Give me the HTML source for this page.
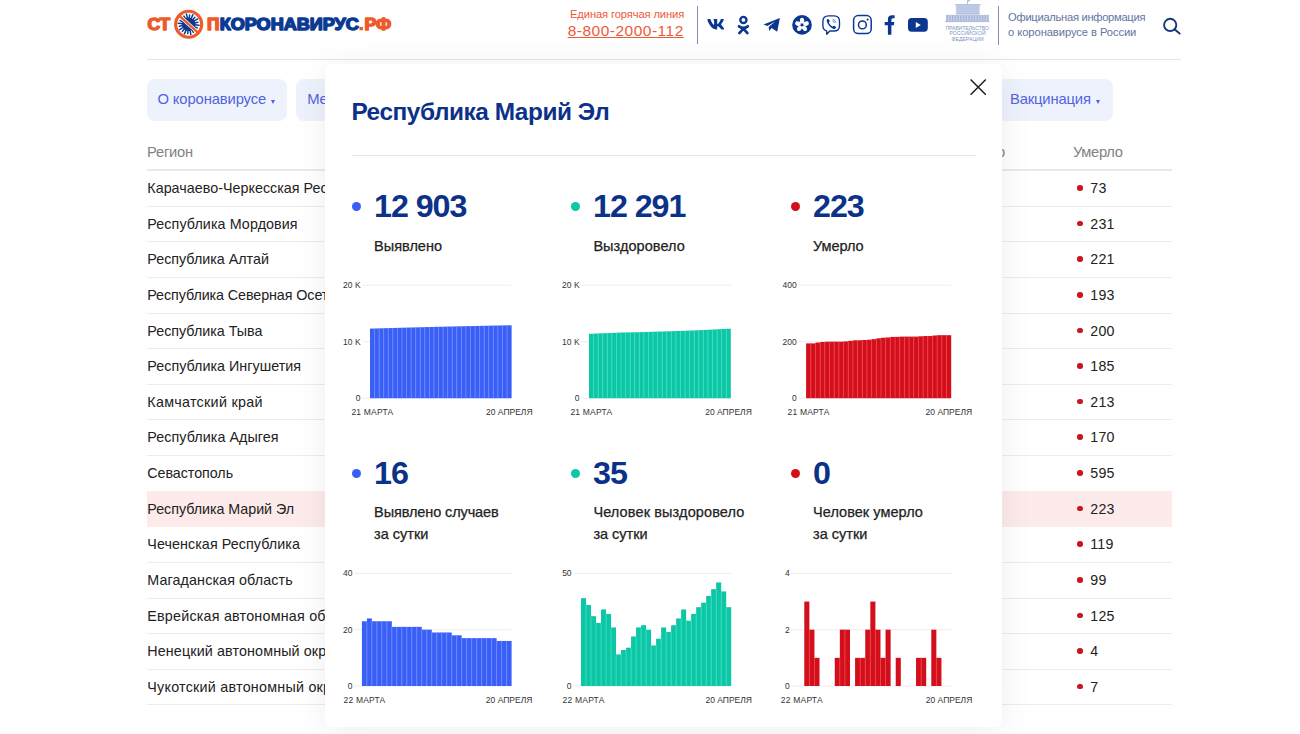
<!DOCTYPE html>
<html lang="ru">
<head>
<meta charset="utf-8">
<title>стопкоронавирус.рф</title>
<style>
*{box-sizing:border-box;margin:0;padding:0}
html,body{width:1300px;height:734px;overflow:hidden;background:#fff}
body{font-family:"Liberation Sans",sans-serif;color:#222;position:relative}
.abs{position:absolute}
/* header */
#hdrline{left:147px;top:59.2px;width:1034px;height:1px;background:#e4e4e4}
#hot1{right:615.9px;top:7.9px;font-size:11.2px;letter-spacing:-0.12px;color:#ec5a3a;white-space:nowrap}
#hot2{right:616.2px;top:22.2px;font-size:15.5px;letter-spacing:0.5px;color:#ec5a3a;white-space:nowrap;text-decoration:underline;text-underline-offset:1.2px;text-decoration-thickness:1px}
.vsep{width:1px;background:#7f8db5}
#off{left:1008.1px;top:10.3px;font-size:11.2px;line-height:15.1px;color:#62759f;white-space:nowrap}
#off .a{letter-spacing:-0.3px}
#off .b{letter-spacing:-0.08px}
/* nav */
.nav{top:79px;height:42px;background:#eef2fd;border-radius:8px;color:#5263e0;font-size:14.8px;letter-spacing:-0.26px;line-height:40.5px;white-space:nowrap}
.nav i{display:inline-block;box-sizing:content-box;width:0;height:0;border-left:2.8px solid transparent;border-right:2.8px solid transparent;border-top:4.3px solid #4f60e0;margin-left:5.4px;vertical-align:-0.3px}
/* table */
.th{top:144.2px;font-size:14.7px;letter-spacing:-0.22px;color:#808285;white-space:nowrap}
.row{left:147px;width:1025px;height:35.62px;border-bottom:1px solid #ececec;font-size:14.3px;line-height:34px;white-space:nowrap}
.row em{font-style:normal;position:absolute;left:0.3px;top:0}
.row.sel{background:#fcebea;border-bottom-color:#fcebea;box-shadow:0 -1px 0 #fcebea}
.row b{position:absolute;left:930.2px;top:14.0px;width:5.6px;height:5.6px;border-radius:50%;background:#c9151e}
.row span{position:absolute;left:943.3px;font-size:14.2px;letter-spacing:0.2px}
/* modal */
#modal{left:325px;top:64px;width:677px;height:663.3px;background:#fff;border-radius:8px;box-shadow:0 3px 34px rgba(0,0,0,.07)}
#title{left:26.4px;top:33.9px;font-size:24.4px;letter-spacing:-0.45px;font-weight:bold;color:#0c3189;white-space:nowrap}
#mline{left:27px;top:91px;width:624px;height:1px;background:#e4e4e4}
.stat{position:absolute;width:219px}
.stat .dot{position:absolute;left:-1px;width:9px;height:9px;border-radius:50%}
.stat .num{position:absolute;left:21.1px;font-size:31px;letter-spacing:-1.0px;font-weight:bold;color:#0c3189;white-space:nowrap;transform:scaleX(1.04);transform-origin:0 50%}
.stat .lbl{position:absolute;left:21.2px;font-size:14.5px;-webkit-text-stroke:0.25px #222;line-height:21.7px;color:#222;white-space:nowrap}
svg text{font-family:"Liberation Sans",sans-serif}
</style>
</head>
<body>
<!-- HEADER -->
<div class="abs" id="hdrline"></div>
<svg class="abs" style="left:0;top:0" width="420" height="50" viewBox="0 0 420 50">
<g font-family="Liberation Sans, sans-serif" font-weight="bold" font-size="15.7" stroke-linejoin="round" stroke-width="1.4">
<text x="147.4" y="29.75" textLength="22.8" lengthAdjust="spacingAndGlyphs" fill="#ee5a2a" stroke="#ee5a2a">СТ</text>
<text x="207.1" y="29.75" textLength="12.4" lengthAdjust="spacingAndGlyphs" fill="#ee5a2a" stroke="#ee5a2a">П</text>
<text x="219.7" y="29.75" textLength="139.2" lengthAdjust="spacingAndGlyphs" fill="#0b3a93" stroke="#0b3a93">КОРОНАВИРУС</text>
<text x="364.5" y="29.75" textLength="26.7" lengthAdjust="spacingAndGlyphs" fill="#ee5a2a" stroke="#ee5a2a">РФ</text>
</g>
<rect x="359.5" y="26.9" width="3.4" height="3.4" fill="#ee5a2a"/>
<circle cx="188.65" cy="24.25" r="6.8" fill="#0b3a93"/>
<line x1="193.63" y1="24.75" x2="199.10" y2="25.30" stroke="#0b3a93" stroke-width="1.45" stroke-linecap="round"/>
<line x1="193.23" y1="26.26" x2="197.26" y2="28.03" stroke="#0b3a93" stroke-width="1.45" stroke-linecap="round"/>
<line x1="192.38" y1="27.58" x2="196.49" y2="31.24" stroke="#0b3a93" stroke-width="1.45" stroke-linecap="round"/>
<line x1="191.17" y1="28.57" x2="193.39" y2="32.37" stroke="#0b3a93" stroke-width="1.45" stroke-linecap="round"/>
<line x1="189.71" y1="29.14" x2="190.88" y2="34.51" stroke="#0b3a93" stroke-width="1.45" stroke-linecap="round"/>
<line x1="188.15" y1="29.23" x2="187.71" y2="33.60" stroke="#0b3a93" stroke-width="1.45" stroke-linecap="round"/>
<line x1="186.64" y1="28.83" x2="184.42" y2="33.86" stroke="#0b3a93" stroke-width="1.45" stroke-linecap="round"/>
<line x1="185.32" y1="27.98" x2="182.39" y2="31.27" stroke="#0b3a93" stroke-width="1.45" stroke-linecap="round"/>
<line x1="184.33" y1="26.77" x2="179.58" y2="29.54" stroke="#0b3a93" stroke-width="1.45" stroke-linecap="round"/>
<line x1="183.76" y1="25.31" x2="179.46" y2="26.25" stroke="#0b3a93" stroke-width="1.45" stroke-linecap="round"/>
<line x1="183.67" y1="23.75" x2="178.20" y2="23.20" stroke="#0b3a93" stroke-width="1.45" stroke-linecap="round"/>
<line x1="184.07" y1="22.24" x2="180.04" y2="20.47" stroke="#0b3a93" stroke-width="1.45" stroke-linecap="round"/>
<line x1="184.92" y1="20.92" x2="180.81" y2="17.26" stroke="#0b3a93" stroke-width="1.45" stroke-linecap="round"/>
<line x1="186.13" y1="19.93" x2="183.91" y2="16.13" stroke="#0b3a93" stroke-width="1.45" stroke-linecap="round"/>
<line x1="187.59" y1="19.36" x2="186.42" y2="13.99" stroke="#0b3a93" stroke-width="1.45" stroke-linecap="round"/>
<line x1="189.15" y1="19.27" x2="189.59" y2="14.90" stroke="#0b3a93" stroke-width="1.45" stroke-linecap="round"/>
<line x1="190.66" y1="19.67" x2="192.88" y2="14.64" stroke="#0b3a93" stroke-width="1.45" stroke-linecap="round"/>
<line x1="191.98" y1="20.52" x2="194.91" y2="17.23" stroke="#0b3a93" stroke-width="1.45" stroke-linecap="round"/>
<line x1="192.97" y1="21.73" x2="197.72" y2="18.96" stroke="#0b3a93" stroke-width="1.45" stroke-linecap="round"/>
<line x1="193.54" y1="23.19" x2="197.84" y2="22.25" stroke="#0b3a93" stroke-width="1.45" stroke-linecap="round"/>
<line x1="179.05" y1="15.65" x2="198.25" y2="32.85" stroke="#fff" stroke-width="3.7"/>
<line x1="179.05" y1="15.65" x2="198.25" y2="32.85" stroke="#ee5a2a" stroke-width="2.4"/>
<circle cx="188.65" cy="24.25" r="13.0" fill="none" stroke="#ee5a2a" stroke-width="3.2"/>
</svg>
<div class="abs" id="hot1">Единая горячая линия</div>
<div class="abs" id="hot2">8-800-2000-112</div>
<div class="abs vsep" style="left:696.8px;top:5.5px;height:38px"></div>
<svg class="abs" style="left:700px;top:0" width="240" height="50" viewBox="700 0 240 50">
<!-- VK -->
<path transform="translate(706.819 15.750) scale(0.03124 0.03281)" d="M545 117.7c3.7-12.5 0-21.7-17.8-21.7h-58.900c-15 0-21.900 7.900-25.600 16.700 0 0-30 73.100-72.400 120.500-13.700 13.700-20 18.100-27.500 18.100-3.700 0-9.400-4.400-9.400-16.900V117.700c0-15-4.200-21.700-16.600-21.700h-92.600c-9.400 0-15 7-15 13.500 0 14.200 21.200 17.500 23.400 57.500v86.800c0 19-3.400 22.500-10.900 22.500-20 0-68.600-73.400-97.400-157.400-5.800-16.300-11.500-22.900-26.600-22.900H38.800c-16.800 0-20.200 7.900-20.200 16.700 0 15.600 20 93.100 93.100 195.500C160.400 378.100 229 416 291.400 416c37.500 0 42.100-8.400 42.100-22.900 0-66.800-3.400-73.100 15.400-73.100 8.700 0 23.700 4.400 58.700 38.100 40 40 46.600 57.900 69 57.900h58.900c16.800 0 25.300-8.400 20.400-25-11.200-34.900-86.900-106.700-90.300-111.500-8.700-11.200-6.200-16.200 0-26.200.1-.1 72-101.300 79.400-135.600z" fill="#0c3791"/>
<!-- OK -->
<g fill="none" stroke="#0c3791" stroke-linecap="round">
<circle cx="743.4" cy="19.9" r="3.05" stroke-width="2.4"/>
<path d="M739 26.3 Q743.4 29.6 747.8 26.3" stroke-width="2.7"/>
<path d="M743.4 28.6 L739.4 33.1 M743.4 28.6 L747.4 33.1" stroke-width="2.7"/>
</g>
<!-- Telegram -->
<path d="M763.5 24.5 L779.9 17.9 L777.2 31.7 L771.6 27.9 L769.1 31.1 L768.7 26.9 L775.0 21.4 L767.4 26.1 Z" fill="#0c3791"/>
<!-- flower -->
<circle cx="802" cy="24.9" r="9.8" fill="#0c3791"/>
<g fill="#fff"><ellipse cx="802" cy="20.70" rx="2.15" ry="2.9" transform="rotate(0 802 24.9)"/><ellipse cx="802" cy="20.70" rx="2.15" ry="2.9" transform="rotate(72 802 24.9)"/><ellipse cx="802" cy="20.70" rx="2.15" ry="2.9" transform="rotate(144 802 24.9)"/><ellipse cx="802" cy="20.70" rx="2.15" ry="2.9" transform="rotate(216 802 24.9)"/><ellipse cx="802" cy="20.70" rx="2.15" ry="2.9" transform="rotate(288 802 24.9)"/></g>
<!-- viber -->
<g fill="none" stroke="#0c3791" stroke-width="1.35" stroke-linejoin="round" stroke-linecap="round">
<path d="M828.6 15.9 H833.9 Q839.5 15.9 839.5 21.5 V25.4 Q839.5 31 833.9 31 H829.8 L826.7 34.3 V30.8 Q822.9 30 822.9 25.4 V21.5 Q822.9 15.9 828.6 15.9 Z"/>
<path d="M833 19.3 Q835.6 19.6 835.9 22.4" stroke-width="0.9" stroke="#5f79b8"/>
<path d="M832.8 21 Q834.2 21.2 834.4 22.6" stroke-width="0.9" stroke="#5f79b8"/>
</g>
<path d="M827.2 19.3 Q828.2 18.6 828.9 19.6 L829.6 20.9 Q829.9 21.6 829.2 22.1 Q828.7 22.6 829.1 23.3 Q830.3 25.4 832.3 26.4 Q832.9 26.6 833.3 26.1 Q833.9 25.4 834.6 25.9 L835.7 26.8 Q836.4 27.5 835.7 28.3 Q834.9 29.4 833.6 28.9 Q828.7 27 826.8 21.6 Q826.4 20.2 827.2 19.3 Z" fill="#0c3791"/>
<!-- instagram -->
<rect x="853.6" y="15.6" width="17.6" height="18" rx="4.6" fill="none" stroke="#0c3791" stroke-width="1.5"/>
<circle cx="862.4" cy="24.9" r="3.9" fill="none" stroke="#0c3791" stroke-width="1.5"/>
<circle cx="867.6" cy="19.6" r="1.05" fill="#0c3791"/>
<!-- facebook -->
<path d="M894.6 15.2 V18.2 H892.9 Q891.4 18.2 891.4 19.8 V22.1 H894.3 L893.9 25.2 H891.4 V34.8 H887.9 V25.2 H884.7 V22.1 H887.9 V19.4 Q887.9 15.2 892.2 15.2 Z" fill="#0c3791"/>
<!-- youtube -->
<rect x="908" y="17.9" width="19.8" height="13.8" rx="3.6" fill="#0c3791"/>
<path d="M915.8 21.9 L920.8 24.9 L915.8 27.9 Z" fill="#fff"/>
</svg>
<svg class="abs" style="left:940px;top:0" width="56" height="50" viewBox="940 0 56 50">
<rect x="955.8" y="4.6" width="24" height="17" fill="#d5ddef"/>
<rect x="956.5" y="6.40" width="22.6" height="1.1" fill="#a7b6da"/><rect x="956.5" y="8.50" width="22.6" height="1.1" fill="#a7b6da"/><rect x="956.5" y="10.60" width="22.6" height="1.1" fill="#a7b6da"/><rect x="956.5" y="12.70" width="22.6" height="1.1" fill="#a7b6da"/>
<rect x="955.2" y="4.2" width="25.2" height="1.2" fill="#a7b6da"/>
<rect x="946" y="14.8" width="42.4" height="6.8" fill="#c9d3ea"/>
<rect x="946.50" y="15" width="1.5" height="6.4" fill="#a7b6da"/><rect x="949.22" y="15" width="1.5" height="6.4" fill="#a7b6da"/><rect x="951.94" y="15" width="1.5" height="6.4" fill="#a7b6da"/><rect x="954.66" y="15" width="1.5" height="6.4" fill="#a7b6da"/><rect x="957.38" y="15" width="1.5" height="6.4" fill="#a7b6da"/><rect x="960.10" y="15" width="1.5" height="6.4" fill="#a7b6da"/><rect x="962.82" y="15" width="1.5" height="6.4" fill="#a7b6da"/><rect x="965.54" y="15" width="1.5" height="6.4" fill="#a7b6da"/><rect x="968.26" y="15" width="1.5" height="6.4" fill="#a7b6da"/><rect x="970.98" y="15" width="1.5" height="6.4" fill="#a7b6da"/><rect x="973.70" y="15" width="1.5" height="6.4" fill="#a7b6da"/><rect x="976.42" y="15" width="1.5" height="6.4" fill="#a7b6da"/><rect x="979.14" y="15" width="1.5" height="6.4" fill="#a7b6da"/><rect x="981.86" y="15" width="1.5" height="6.4" fill="#a7b6da"/><rect x="984.58" y="15" width="1.5" height="6.4" fill="#a7b6da"/><rect x="987.30" y="15" width="1.5" height="6.4" fill="#a7b6da"/>
<rect x="945" y="21.2" width="44.4" height="0.9" fill="#a7b6da"/>
<rect x="967" y="0" width="0.8" height="4.6" fill="#a7b6da"/>
<rect x="967.8" y="0" width="2" height="1.4" fill="#a7b6da"/>
<g font-family="Liberation Sans, sans-serif" font-size="5.1" fill="#8194c2" text-anchor="middle">
<text x="967.2" y="29.8" textLength="43.6" lengthAdjust="spacingAndGlyphs">ПРАВИТЕЛЬСТВО</text>
<text x="967.6" y="35.1" textLength="36" lengthAdjust="spacingAndGlyphs">РОССИЙСКОЙ</text>
<text x="967.6" y="40.5" textLength="32" lengthAdjust="spacingAndGlyphs">ФЕДЕРАЦИИ</text>
</g>
</svg>
<svg class="abs" style="left:1160px;top:12px" width="24" height="24" viewBox="1160 12 24 24">
<circle cx="1170.2" cy="24.9" r="6.1" fill="none" stroke="#17377c" stroke-width="1.9"/>
<line x1="1174.8" y1="29.6" x2="1179.6" y2="33.6" stroke="#17377c" stroke-width="2" stroke-linecap="round"/>
</svg>
<div class="abs vsep" style="left:998px;top:5.5px;height:39px"></div>
<div class="abs" id="off"><span class="a">Официальная информация</span><br><span class="b">о коронавирусе в России</span></div>

<!-- NAV -->
<div class="abs nav" style="left:147px;width:140px;padding-left:10.5px;letter-spacing:-0.13px">О коронавирусе<i style="margin-left:5px"></i></div>
<div class="abs nav" style="left:296px;width:160px;padding-left:11.3px">Меры</div>
<div class="abs nav" style="left:960px;width:153px;padding-left:50px;letter-spacing:-0.17px">Вакцинация<i></i></div>

<!-- TABLE -->
<div class="abs th" style="left:147px">Регион</div>
<div class="abs th" style="left:915.3px">Выздоровело</div>
<div class="abs th" style="left:1073px;letter-spacing:-0.33px">Умерло</div>
<div class="abs" style="left:147px;top:169.4px;width:1025px;height:1.4px;background:#e9e9e9"></div>
<div class="abs row" style="top:171.10px"><em style="letter-spacing:0.03px">Карачаево-Черкесская Республика</em><b></b><span>73</span></div>
<div class="abs row" style="top:206.72px"><em style="letter-spacing:0.09px">Республика Мордовия</em><b></b><span>231</span></div>
<div class="abs row" style="top:242.34px"><em style="letter-spacing:0.0px">Республика Алтай</em><b></b><span>221</span></div>
<div class="abs row" style="top:277.96px"><em style="letter-spacing:-0.08px">Республика Северная Осетия</em><b></b><span>193</span></div>
<div class="abs row" style="top:313.58px"><em style="letter-spacing:0.0px">Республика Тыва</em><b></b><span>200</span></div>
<div class="abs row" style="top:349.20px"><em style="letter-spacing:0.03px">Республика Ингушетия</em><b></b><span>185</span></div>
<div class="abs row" style="top:384.82px"><em style="letter-spacing:0.29px">Камчатский край</em><b></b><span>213</span></div>
<div class="abs row" style="top:420.44px"><em style="letter-spacing:0.07px">Республика Адыгея</em><b></b><span>170</span></div>
<div class="abs row" style="top:456.06px"><em style="letter-spacing:-0.05px">Севастополь</em><b></b><span>595</span></div>
<div class="abs row sel" style="top:491.68px"><em style="letter-spacing:-0.04px">Республика Марий Эл</em><b></b><span>223</span></div>
<div class="abs row" style="top:527.30px"><em style="letter-spacing:0.08px">Чеченская Республика</em><b></b><span>119</span></div>
<div class="abs row" style="top:562.92px"><em style="letter-spacing:0.11px">Магаданская область</em><b></b><span>99</span></div>
<div class="abs row" style="top:598.54px"><em style="letter-spacing:0.22px">Еврейская автономная область</em><b></b><span>125</span></div>
<div class="abs row" style="top:634.16px"><em style="letter-spacing:0.13px">Ненецкий автономный округ</em><b></b><span>4</span></div>
<div class="abs row" style="top:669.78px"><em style="letter-spacing:0.25px">Чукотский автономный округ</em><b></b><span>7</span></div>

<!-- MODAL -->
<div class="abs" id="modal">
  <div class="abs" id="title">Республика Марий Эл</div>
  <div class="abs" id="mline"></div>
  <div class="stat" style="left:27.9px;top:142.5px"><div class="dot" style="top:-4.5px;background:#3a5ff7"></div><div class="num" style="top:-17.5px">12 903</div><div class="lbl" style="top:29.3px"><span style="letter-spacing:0.0px">Выявлено</span></div></div>
<div class="stat" style="left:247.2px;top:142.5px"><div class="dot" style="top:-4.5px;background:#0cc7a6"></div><div class="num" style="top:-17.5px">12 291</div><div class="lbl" style="top:29.3px"><span style="letter-spacing:0.05px">Выздоровело</span></div></div>
<div class="stat" style="left:466.9px;top:142.5px"><div class="dot" style="top:-4.5px;background:#d30f1c"></div><div class="num" style="top:-17.5px">223</div><div class="lbl" style="top:29.3px"><span style="letter-spacing:-0.08px">Умерло</span></div></div>
<div class="stat" style="left:27.9px;top:409.0px"><div class="dot" style="top:-4.5px;background:#3a5ff7"></div><div class="num" style="top:-17.5px">16</div><div class="lbl" style="top:29.0px"><span style="letter-spacing:-0.11px">Выявлено случаев</span><br><span style="letter-spacing:0px">за сутки</span></div></div>
<div class="stat" style="left:247.2px;top:409.0px"><div class="dot" style="top:-4.5px;background:#0cc7a6"></div><div class="num" style="top:-17.5px">35</div><div class="lbl" style="top:29.0px"><span style="letter-spacing:0.12px">Человек выздоровело</span><br><span style="letter-spacing:0px">за сутки</span></div></div>
<div class="stat" style="left:466.9px;top:409.0px"><div class="dot" style="top:-4.5px;background:#d30f1c"></div><div class="num" style="top:-17.5px">0</div><div class="lbl" style="top:29.0px"><span style="letter-spacing:0.04px">Человек умерло</span><br><span style="letter-spacing:0px">за сутки</span></div></div>
  <svg class="abs" style="left:643px;top:13px" width="20" height="20" viewBox="0 0 20 20"><path d="M2.6 2.5 L17.8 17.7 M17.8 2.5 L2.6 17.7" stroke="#1c1c1c" stroke-width="1.5" fill="none"/></svg>
</div>
<svg class="abs" style="left:0;top:0" width="1300" height="734" viewBox="0 0 1300 734">
<rect x="362.50" y="397.70" width="149.10" height="1" fill="#ededed"/>
<text x="360.60" y="401.20" font-size="8.5" fill="#333" text-anchor="end">0</text>
<rect x="362.50" y="341.20" width="149.10" height="1" fill="#ededed"/>
<text x="360.60" y="344.70" font-size="8.5" fill="#333" text-anchor="end">10 K</text>
<rect x="362.50" y="284.70" width="149.10" height="1" fill="#ededed"/>
<text x="360.60" y="288.20" font-size="8.5" fill="#333" text-anchor="end">20 K</text>
<rect x="370.00" y="328.60" width="4.57" height="69.60" fill="#3a5ff7"/>
<rect x="374.57" y="328.47" width="4.57" height="69.73" fill="#3a5ff7"/>
<rect x="379.14" y="328.33" width="4.57" height="69.87" fill="#3a5ff7"/>
<rect x="383.70" y="328.20" width="4.57" height="70.00" fill="#3a5ff7"/>
<rect x="388.27" y="328.07" width="4.57" height="70.13" fill="#3a5ff7"/>
<rect x="392.84" y="327.94" width="4.57" height="70.26" fill="#3a5ff7"/>
<rect x="397.41" y="327.81" width="4.57" height="70.39" fill="#3a5ff7"/>
<rect x="401.97" y="327.69" width="4.57" height="70.51" fill="#3a5ff7"/>
<rect x="406.54" y="327.57" width="4.57" height="70.62" fill="#3a5ff7"/>
<rect x="411.11" y="327.46" width="4.57" height="70.74" fill="#3a5ff7"/>
<rect x="415.68" y="327.34" width="4.57" height="70.86" fill="#3a5ff7"/>
<rect x="420.25" y="327.22" width="4.57" height="70.98" fill="#3a5ff7"/>
<rect x="424.81" y="327.10" width="4.57" height="71.10" fill="#3a5ff7"/>
<rect x="429.38" y="326.99" width="4.57" height="71.21" fill="#3a5ff7"/>
<rect x="433.95" y="326.87" width="4.57" height="71.33" fill="#3a5ff7"/>
<rect x="438.52" y="326.77" width="4.57" height="71.43" fill="#3a5ff7"/>
<rect x="443.08" y="326.66" width="4.57" height="71.54" fill="#3a5ff7"/>
<rect x="447.65" y="326.55" width="4.57" height="71.65" fill="#3a5ff7"/>
<rect x="452.22" y="326.44" width="4.57" height="71.75" fill="#3a5ff7"/>
<rect x="456.79" y="326.34" width="4.57" height="71.86" fill="#3a5ff7"/>
<rect x="461.35" y="326.24" width="4.57" height="71.96" fill="#3a5ff7"/>
<rect x="465.92" y="326.15" width="4.57" height="72.05" fill="#3a5ff7"/>
<rect x="470.49" y="326.05" width="4.57" height="72.15" fill="#3a5ff7"/>
<rect x="475.06" y="325.95" width="4.57" height="72.25" fill="#3a5ff7"/>
<rect x="479.63" y="325.86" width="4.57" height="72.34" fill="#3a5ff7"/>
<rect x="484.19" y="325.76" width="4.57" height="72.44" fill="#3a5ff7"/>
<rect x="488.76" y="325.67" width="4.57" height="72.53" fill="#3a5ff7"/>
<rect x="493.33" y="325.57" width="4.57" height="72.63" fill="#3a5ff7"/>
<rect x="497.90" y="325.48" width="4.57" height="72.72" fill="#3a5ff7"/>
<rect x="502.46" y="325.39" width="4.57" height="72.81" fill="#3a5ff7"/>
<rect x="507.03" y="325.30" width="4.57" height="72.90" fill="#3a5ff7"/>
<rect x="374.12" y="328.60" width="0.9" height="69.60" fill="#6a89fd"/>
<rect x="378.69" y="328.47" width="0.9" height="69.73" fill="#6a89fd"/>
<rect x="383.25" y="328.33" width="0.9" height="69.87" fill="#6a89fd"/>
<rect x="387.82" y="328.20" width="0.9" height="70.00" fill="#6a89fd"/>
<rect x="392.39" y="328.07" width="0.9" height="70.13" fill="#6a89fd"/>
<rect x="396.96" y="327.94" width="0.9" height="70.26" fill="#6a89fd"/>
<rect x="401.52" y="327.81" width="0.9" height="70.39" fill="#6a89fd"/>
<rect x="406.09" y="327.69" width="0.9" height="70.51" fill="#6a89fd"/>
<rect x="410.66" y="327.57" width="0.9" height="70.62" fill="#6a89fd"/>
<rect x="415.23" y="327.46" width="0.9" height="70.74" fill="#6a89fd"/>
<rect x="419.80" y="327.34" width="0.9" height="70.86" fill="#6a89fd"/>
<rect x="424.36" y="327.22" width="0.9" height="70.98" fill="#6a89fd"/>
<rect x="428.93" y="327.10" width="0.9" height="71.10" fill="#6a89fd"/>
<rect x="433.50" y="326.99" width="0.9" height="71.21" fill="#6a89fd"/>
<rect x="438.07" y="326.87" width="0.9" height="71.33" fill="#6a89fd"/>
<rect x="442.63" y="326.77" width="0.9" height="71.43" fill="#6a89fd"/>
<rect x="447.20" y="326.66" width="0.9" height="71.54" fill="#6a89fd"/>
<rect x="451.77" y="326.55" width="0.9" height="71.65" fill="#6a89fd"/>
<rect x="456.34" y="326.44" width="0.9" height="71.75" fill="#6a89fd"/>
<rect x="460.90" y="326.34" width="0.9" height="71.86" fill="#6a89fd"/>
<rect x="465.47" y="326.24" width="0.9" height="71.96" fill="#6a89fd"/>
<rect x="470.04" y="326.15" width="0.9" height="72.05" fill="#6a89fd"/>
<rect x="474.61" y="326.05" width="0.9" height="72.15" fill="#6a89fd"/>
<rect x="479.18" y="325.95" width="0.9" height="72.25" fill="#6a89fd"/>
<rect x="483.74" y="325.86" width="0.9" height="72.34" fill="#6a89fd"/>
<rect x="488.31" y="325.76" width="0.9" height="72.44" fill="#6a89fd"/>
<rect x="492.88" y="325.67" width="0.9" height="72.53" fill="#6a89fd"/>
<rect x="497.45" y="325.57" width="0.9" height="72.63" fill="#6a89fd"/>
<rect x="502.01" y="325.48" width="0.9" height="72.72" fill="#6a89fd"/>
<rect x="506.58" y="325.39" width="0.9" height="72.81" fill="#6a89fd"/>
<text x="372.28" y="414.90" font-size="8.5" fill="#333" text-anchor="middle" textLength="41.8" lengthAdjust="spacing">21 МАРТА</text>
<text x="509.32" y="414.90" font-size="8.5" fill="#333" text-anchor="middle">20 АПРЕЛЯ</text>
<rect x="581.50" y="397.70" width="149.30" height="1" fill="#ededed"/>
<text x="579.60" y="401.20" font-size="8.5" fill="#333" text-anchor="end">0</text>
<rect x="581.50" y="341.20" width="149.30" height="1" fill="#ededed"/>
<text x="579.60" y="344.70" font-size="8.5" fill="#333" text-anchor="end">10 K</text>
<rect x="581.50" y="284.70" width="149.30" height="1" fill="#ededed"/>
<text x="579.60" y="288.20" font-size="8.5" fill="#333" text-anchor="end">20 K</text>
<rect x="589.00" y="333.80" width="4.57" height="64.40" fill="#0cc7a6"/>
<rect x="593.57" y="333.58" width="4.57" height="64.62" fill="#0cc7a6"/>
<rect x="598.15" y="333.37" width="4.57" height="64.83" fill="#0cc7a6"/>
<rect x="602.72" y="333.20" width="4.57" height="65.00" fill="#0cc7a6"/>
<rect x="607.30" y="333.04" width="4.57" height="65.16" fill="#0cc7a6"/>
<rect x="611.87" y="332.85" width="4.57" height="65.35" fill="#0cc7a6"/>
<rect x="616.45" y="332.67" width="4.57" height="65.53" fill="#0cc7a6"/>
<rect x="621.02" y="332.52" width="4.57" height="65.68" fill="#0cc7a6"/>
<rect x="625.59" y="332.44" width="4.57" height="65.76" fill="#0cc7a6"/>
<rect x="630.17" y="332.35" width="4.57" height="65.85" fill="#0cc7a6"/>
<rect x="634.74" y="332.25" width="4.57" height="65.95" fill="#0cc7a6"/>
<rect x="639.32" y="332.13" width="4.57" height="66.07" fill="#0cc7a6"/>
<rect x="643.89" y="331.98" width="4.57" height="66.22" fill="#0cc7a6"/>
<rect x="648.46" y="331.83" width="4.57" height="66.37" fill="#0cc7a6"/>
<rect x="653.04" y="331.69" width="4.57" height="66.51" fill="#0cc7a6"/>
<rect x="657.61" y="331.59" width="4.57" height="66.61" fill="#0cc7a6"/>
<rect x="662.19" y="331.47" width="4.57" height="66.73" fill="#0cc7a6"/>
<rect x="666.76" y="331.32" width="4.57" height="66.88" fill="#0cc7a6"/>
<rect x="671.34" y="331.19" width="4.57" height="67.01" fill="#0cc7a6"/>
<rect x="675.91" y="331.03" width="4.57" height="67.17" fill="#0cc7a6"/>
<rect x="680.48" y="330.86" width="4.57" height="67.34" fill="#0cc7a6"/>
<rect x="685.06" y="330.67" width="4.57" height="67.53" fill="#0cc7a6"/>
<rect x="689.63" y="330.51" width="4.57" height="67.69" fill="#0cc7a6"/>
<rect x="694.21" y="330.33" width="4.57" height="67.87" fill="#0cc7a6"/>
<rect x="698.78" y="330.13" width="4.57" height="68.07" fill="#0cc7a6"/>
<rect x="703.35" y="329.92" width="4.57" height="68.28" fill="#0cc7a6"/>
<rect x="707.93" y="329.69" width="4.57" height="68.51" fill="#0cc7a6"/>
<rect x="712.50" y="329.45" width="4.57" height="68.75" fill="#0cc7a6"/>
<rect x="717.08" y="329.19" width="4.57" height="69.01" fill="#0cc7a6"/>
<rect x="721.65" y="328.95" width="4.57" height="69.25" fill="#0cc7a6"/>
<rect x="726.23" y="328.76" width="4.57" height="69.44" fill="#0cc7a6"/>
<rect x="593.12" y="333.80" width="0.9" height="64.40" fill="#3edcc1"/>
<rect x="597.70" y="333.58" width="0.9" height="64.62" fill="#3edcc1"/>
<rect x="602.27" y="333.37" width="0.9" height="64.83" fill="#3edcc1"/>
<rect x="606.85" y="333.20" width="0.9" height="65.00" fill="#3edcc1"/>
<rect x="611.42" y="333.04" width="0.9" height="65.16" fill="#3edcc1"/>
<rect x="616.00" y="332.85" width="0.9" height="65.35" fill="#3edcc1"/>
<rect x="620.57" y="332.67" width="0.9" height="65.53" fill="#3edcc1"/>
<rect x="625.14" y="332.52" width="0.9" height="65.68" fill="#3edcc1"/>
<rect x="629.72" y="332.44" width="0.9" height="65.76" fill="#3edcc1"/>
<rect x="634.29" y="332.35" width="0.9" height="65.85" fill="#3edcc1"/>
<rect x="638.87" y="332.25" width="0.9" height="65.95" fill="#3edcc1"/>
<rect x="643.44" y="332.13" width="0.9" height="66.07" fill="#3edcc1"/>
<rect x="648.01" y="331.98" width="0.9" height="66.22" fill="#3edcc1"/>
<rect x="652.59" y="331.83" width="0.9" height="66.37" fill="#3edcc1"/>
<rect x="657.16" y="331.69" width="0.9" height="66.51" fill="#3edcc1"/>
<rect x="661.74" y="331.59" width="0.9" height="66.61" fill="#3edcc1"/>
<rect x="666.31" y="331.47" width="0.9" height="66.73" fill="#3edcc1"/>
<rect x="670.89" y="331.32" width="0.9" height="66.88" fill="#3edcc1"/>
<rect x="675.46" y="331.19" width="0.9" height="67.01" fill="#3edcc1"/>
<rect x="680.03" y="331.03" width="0.9" height="67.17" fill="#3edcc1"/>
<rect x="684.61" y="330.86" width="0.9" height="67.34" fill="#3edcc1"/>
<rect x="689.18" y="330.67" width="0.9" height="67.53" fill="#3edcc1"/>
<rect x="693.76" y="330.51" width="0.9" height="67.69" fill="#3edcc1"/>
<rect x="698.33" y="330.33" width="0.9" height="67.87" fill="#3edcc1"/>
<rect x="702.90" y="330.13" width="0.9" height="68.07" fill="#3edcc1"/>
<rect x="707.48" y="329.92" width="0.9" height="68.28" fill="#3edcc1"/>
<rect x="712.05" y="329.69" width="0.9" height="68.51" fill="#3edcc1"/>
<rect x="716.63" y="329.45" width="0.9" height="68.75" fill="#3edcc1"/>
<rect x="721.20" y="329.19" width="0.9" height="69.01" fill="#3edcc1"/>
<rect x="725.78" y="328.95" width="0.9" height="69.25" fill="#3edcc1"/>
<text x="591.29" y="414.90" font-size="8.5" fill="#333" text-anchor="middle" textLength="41.8" lengthAdjust="spacing">21 МАРТА</text>
<text x="728.51" y="414.90" font-size="8.5" fill="#333" text-anchor="middle">20 АПРЕЛЯ</text>
<rect x="798.60" y="397.70" width="152.60" height="1" fill="#ededed"/>
<text x="796.70" y="401.20" font-size="8.5" fill="#333" text-anchor="end">0</text>
<rect x="798.60" y="341.20" width="152.60" height="1" fill="#ededed"/>
<text x="796.70" y="344.70" font-size="8.5" fill="#333" text-anchor="end">200</text>
<rect x="798.60" y="284.70" width="152.60" height="1" fill="#ededed"/>
<text x="796.70" y="288.20" font-size="8.5" fill="#333" text-anchor="end">400</text>
<rect x="806.10" y="343.39" width="4.68" height="54.80" fill="#d30f1c"/>
<rect x="810.78" y="343.39" width="4.68" height="54.80" fill="#d30f1c"/>
<rect x="815.46" y="342.55" width="4.68" height="55.65" fill="#d30f1c"/>
<rect x="820.14" y="341.98" width="4.68" height="56.22" fill="#d30f1c"/>
<rect x="824.82" y="341.70" width="4.68" height="56.50" fill="#d30f1c"/>
<rect x="829.50" y="341.70" width="4.68" height="56.50" fill="#d30f1c"/>
<rect x="834.18" y="341.70" width="4.68" height="56.50" fill="#d30f1c"/>
<rect x="838.86" y="341.70" width="4.68" height="56.50" fill="#d30f1c"/>
<rect x="843.55" y="341.42" width="4.68" height="56.78" fill="#d30f1c"/>
<rect x="848.23" y="340.85" width="4.68" height="57.35" fill="#d30f1c"/>
<rect x="852.91" y="340.29" width="4.68" height="57.91" fill="#d30f1c"/>
<rect x="857.59" y="340.29" width="4.68" height="57.91" fill="#d30f1c"/>
<rect x="862.27" y="340.00" width="4.68" height="58.20" fill="#d30f1c"/>
<rect x="866.95" y="339.72" width="4.68" height="58.48" fill="#d30f1c"/>
<rect x="871.63" y="339.16" width="4.68" height="59.04" fill="#d30f1c"/>
<rect x="876.31" y="338.31" width="4.68" height="59.89" fill="#d30f1c"/>
<rect x="880.99" y="337.75" width="4.68" height="60.45" fill="#d30f1c"/>
<rect x="885.67" y="337.46" width="4.68" height="60.74" fill="#d30f1c"/>
<rect x="890.35" y="336.90" width="4.68" height="61.30" fill="#d30f1c"/>
<rect x="895.03" y="336.90" width="4.68" height="61.30" fill="#d30f1c"/>
<rect x="899.71" y="336.62" width="4.68" height="61.59" fill="#d30f1c"/>
<rect x="904.39" y="336.62" width="4.68" height="61.59" fill="#d30f1c"/>
<rect x="909.07" y="336.62" width="4.68" height="61.59" fill="#d30f1c"/>
<rect x="913.75" y="336.62" width="4.68" height="61.59" fill="#d30f1c"/>
<rect x="918.44" y="336.33" width="4.68" height="61.87" fill="#d30f1c"/>
<rect x="923.12" y="336.05" width="4.68" height="62.15" fill="#d30f1c"/>
<rect x="927.80" y="336.05" width="4.68" height="62.15" fill="#d30f1c"/>
<rect x="932.48" y="335.49" width="4.68" height="62.72" fill="#d30f1c"/>
<rect x="937.16" y="335.20" width="4.68" height="63.00" fill="#d30f1c"/>
<rect x="941.84" y="335.20" width="4.68" height="63.00" fill="#d30f1c"/>
<rect x="946.52" y="335.20" width="4.68" height="63.00" fill="#d30f1c"/>
<rect x="810.33" y="343.39" width="0.9" height="54.80" fill="#ee3f4a"/>
<rect x="815.01" y="343.39" width="0.9" height="54.80" fill="#ee3f4a"/>
<rect x="819.69" y="342.55" width="0.9" height="55.65" fill="#ee3f4a"/>
<rect x="824.37" y="341.98" width="0.9" height="56.22" fill="#ee3f4a"/>
<rect x="829.05" y="341.70" width="0.9" height="56.50" fill="#ee3f4a"/>
<rect x="833.73" y="341.70" width="0.9" height="56.50" fill="#ee3f4a"/>
<rect x="838.41" y="341.70" width="0.9" height="56.50" fill="#ee3f4a"/>
<rect x="843.10" y="341.70" width="0.9" height="56.50" fill="#ee3f4a"/>
<rect x="847.78" y="341.42" width="0.9" height="56.78" fill="#ee3f4a"/>
<rect x="852.46" y="340.85" width="0.9" height="57.35" fill="#ee3f4a"/>
<rect x="857.14" y="340.29" width="0.9" height="57.91" fill="#ee3f4a"/>
<rect x="861.82" y="340.29" width="0.9" height="57.91" fill="#ee3f4a"/>
<rect x="866.50" y="340.00" width="0.9" height="58.20" fill="#ee3f4a"/>
<rect x="871.18" y="339.72" width="0.9" height="58.48" fill="#ee3f4a"/>
<rect x="875.86" y="339.16" width="0.9" height="59.04" fill="#ee3f4a"/>
<rect x="880.54" y="338.31" width="0.9" height="59.89" fill="#ee3f4a"/>
<rect x="885.22" y="337.75" width="0.9" height="60.45" fill="#ee3f4a"/>
<rect x="889.90" y="337.46" width="0.9" height="60.74" fill="#ee3f4a"/>
<rect x="894.58" y="336.90" width="0.9" height="61.30" fill="#ee3f4a"/>
<rect x="899.26" y="336.90" width="0.9" height="61.30" fill="#ee3f4a"/>
<rect x="903.94" y="336.62" width="0.9" height="61.59" fill="#ee3f4a"/>
<rect x="908.62" y="336.62" width="0.9" height="61.59" fill="#ee3f4a"/>
<rect x="913.30" y="336.62" width="0.9" height="61.59" fill="#ee3f4a"/>
<rect x="917.99" y="336.62" width="0.9" height="61.59" fill="#ee3f4a"/>
<rect x="922.67" y="336.33" width="0.9" height="61.87" fill="#ee3f4a"/>
<rect x="927.35" y="336.05" width="0.9" height="62.15" fill="#ee3f4a"/>
<rect x="932.03" y="336.05" width="0.9" height="62.15" fill="#ee3f4a"/>
<rect x="936.71" y="335.49" width="0.9" height="62.72" fill="#ee3f4a"/>
<rect x="941.39" y="335.20" width="0.9" height="63.00" fill="#ee3f4a"/>
<rect x="946.07" y="335.20" width="0.9" height="63.00" fill="#ee3f4a"/>
<text x="808.44" y="414.90" font-size="8.5" fill="#333" text-anchor="middle" textLength="41.8" lengthAdjust="spacing">21 МАРТА</text>
<text x="948.86" y="414.90" font-size="8.5" fill="#333" text-anchor="middle">20 АПРЕЛЯ</text>
<rect x="354.40" y="685.50" width="157.20" height="1" fill="#ededed"/>
<text x="352.50" y="689.00" font-size="8.5" fill="#333" text-anchor="end">0</text>
<rect x="354.40" y="629.20" width="157.20" height="1" fill="#ededed"/>
<text x="352.50" y="632.70" font-size="8.5" fill="#333" text-anchor="end">20</text>
<rect x="354.40" y="572.90" width="157.20" height="1" fill="#ededed"/>
<text x="352.50" y="576.40" font-size="8.5" fill="#333" text-anchor="end">40</text>
<rect x="361.90" y="621.25" width="4.99" height="64.75" fill="#3a5ff7"/>
<rect x="366.89" y="618.44" width="4.99" height="67.56" fill="#3a5ff7"/>
<rect x="371.88" y="621.25" width="4.99" height="64.75" fill="#3a5ff7"/>
<rect x="376.87" y="621.25" width="4.99" height="64.75" fill="#3a5ff7"/>
<rect x="381.86" y="621.25" width="4.99" height="64.75" fill="#3a5ff7"/>
<rect x="386.85" y="621.25" width="4.99" height="64.75" fill="#3a5ff7"/>
<rect x="391.84" y="626.88" width="4.99" height="59.12" fill="#3a5ff7"/>
<rect x="396.83" y="626.88" width="4.99" height="59.12" fill="#3a5ff7"/>
<rect x="401.82" y="626.88" width="4.99" height="59.12" fill="#3a5ff7"/>
<rect x="406.81" y="626.88" width="4.99" height="59.12" fill="#3a5ff7"/>
<rect x="411.80" y="626.88" width="4.99" height="59.12" fill="#3a5ff7"/>
<rect x="416.79" y="626.88" width="4.99" height="59.12" fill="#3a5ff7"/>
<rect x="421.78" y="629.70" width="4.99" height="56.30" fill="#3a5ff7"/>
<rect x="426.77" y="629.70" width="4.99" height="56.30" fill="#3a5ff7"/>
<rect x="431.76" y="632.51" width="4.99" height="53.49" fill="#3a5ff7"/>
<rect x="436.75" y="632.51" width="4.99" height="53.49" fill="#3a5ff7"/>
<rect x="441.74" y="632.51" width="4.99" height="53.49" fill="#3a5ff7"/>
<rect x="446.73" y="632.51" width="4.99" height="53.49" fill="#3a5ff7"/>
<rect x="451.72" y="635.33" width="4.99" height="50.67" fill="#3a5ff7"/>
<rect x="456.71" y="635.33" width="4.99" height="50.67" fill="#3a5ff7"/>
<rect x="461.70" y="638.14" width="4.99" height="47.86" fill="#3a5ff7"/>
<rect x="466.69" y="638.14" width="4.99" height="47.86" fill="#3a5ff7"/>
<rect x="471.68" y="638.14" width="4.99" height="47.86" fill="#3a5ff7"/>
<rect x="476.67" y="638.14" width="4.99" height="47.86" fill="#3a5ff7"/>
<rect x="481.66" y="638.14" width="4.99" height="47.86" fill="#3a5ff7"/>
<rect x="486.65" y="638.14" width="4.99" height="47.86" fill="#3a5ff7"/>
<rect x="491.64" y="638.14" width="4.99" height="47.86" fill="#3a5ff7"/>
<rect x="496.63" y="640.96" width="4.99" height="45.04" fill="#3a5ff7"/>
<rect x="501.62" y="640.96" width="4.99" height="45.04" fill="#3a5ff7"/>
<rect x="506.61" y="640.96" width="4.99" height="45.04" fill="#3a5ff7"/>
<rect x="366.44" y="621.25" width="0.9" height="64.75" fill="#6a89fd"/>
<rect x="371.43" y="621.25" width="0.9" height="64.75" fill="#6a89fd"/>
<rect x="376.42" y="621.25" width="0.9" height="64.75" fill="#6a89fd"/>
<rect x="381.41" y="621.25" width="0.9" height="64.75" fill="#6a89fd"/>
<rect x="386.40" y="621.25" width="0.9" height="64.75" fill="#6a89fd"/>
<rect x="391.39" y="626.88" width="0.9" height="59.12" fill="#6a89fd"/>
<rect x="396.38" y="626.88" width="0.9" height="59.12" fill="#6a89fd"/>
<rect x="401.37" y="626.88" width="0.9" height="59.12" fill="#6a89fd"/>
<rect x="406.36" y="626.88" width="0.9" height="59.12" fill="#6a89fd"/>
<rect x="411.35" y="626.88" width="0.9" height="59.12" fill="#6a89fd"/>
<rect x="416.34" y="626.88" width="0.9" height="59.12" fill="#6a89fd"/>
<rect x="421.33" y="629.70" width="0.9" height="56.30" fill="#6a89fd"/>
<rect x="426.32" y="629.70" width="0.9" height="56.30" fill="#6a89fd"/>
<rect x="431.31" y="632.51" width="0.9" height="53.49" fill="#6a89fd"/>
<rect x="436.30" y="632.51" width="0.9" height="53.49" fill="#6a89fd"/>
<rect x="441.29" y="632.51" width="0.9" height="53.49" fill="#6a89fd"/>
<rect x="446.28" y="632.51" width="0.9" height="53.49" fill="#6a89fd"/>
<rect x="451.27" y="635.33" width="0.9" height="50.67" fill="#6a89fd"/>
<rect x="456.26" y="635.33" width="0.9" height="50.67" fill="#6a89fd"/>
<rect x="461.25" y="638.14" width="0.9" height="47.86" fill="#6a89fd"/>
<rect x="466.24" y="638.14" width="0.9" height="47.86" fill="#6a89fd"/>
<rect x="471.23" y="638.14" width="0.9" height="47.86" fill="#6a89fd"/>
<rect x="476.22" y="638.14" width="0.9" height="47.86" fill="#6a89fd"/>
<rect x="481.21" y="638.14" width="0.9" height="47.86" fill="#6a89fd"/>
<rect x="486.20" y="638.14" width="0.9" height="47.86" fill="#6a89fd"/>
<rect x="491.19" y="638.14" width="0.9" height="47.86" fill="#6a89fd"/>
<rect x="496.18" y="640.96" width="0.9" height="45.04" fill="#6a89fd"/>
<rect x="501.17" y="640.96" width="0.9" height="45.04" fill="#6a89fd"/>
<rect x="506.16" y="640.96" width="0.9" height="45.04" fill="#6a89fd"/>
<text x="364.39" y="702.70" font-size="8.5" fill="#333" text-anchor="middle" textLength="41.8" lengthAdjust="spacing">22 МАРТА</text>
<text x="509.11" y="702.70" font-size="8.5" fill="#333" text-anchor="middle">20 АПРЕЛЯ</text>
<rect x="573.50" y="685.50" width="157.70" height="1" fill="#ededed"/>
<text x="571.60" y="689.00" font-size="8.5" fill="#333" text-anchor="end">0</text>
<rect x="573.50" y="572.90" width="157.70" height="1" fill="#ededed"/>
<text x="571.60" y="576.40" font-size="8.5" fill="#333" text-anchor="end">50</text>
<rect x="581.00" y="598.17" width="5.01" height="87.83" fill="#0cc7a6"/>
<rect x="586.01" y="604.93" width="5.01" height="81.07" fill="#0cc7a6"/>
<rect x="591.01" y="616.19" width="5.01" height="69.81" fill="#0cc7a6"/>
<rect x="596.02" y="622.94" width="5.01" height="63.06" fill="#0cc7a6"/>
<rect x="601.03" y="609.43" width="5.01" height="76.57" fill="#0cc7a6"/>
<rect x="606.03" y="613.94" width="5.01" height="72.06" fill="#0cc7a6"/>
<rect x="611.04" y="627.45" width="5.01" height="58.55" fill="#0cc7a6"/>
<rect x="616.05" y="654.47" width="5.01" height="31.53" fill="#0cc7a6"/>
<rect x="621.05" y="649.97" width="5.01" height="36.03" fill="#0cc7a6"/>
<rect x="626.06" y="647.72" width="5.01" height="38.28" fill="#0cc7a6"/>
<rect x="631.07" y="636.46" width="5.01" height="49.54" fill="#0cc7a6"/>
<rect x="636.07" y="627.45" width="5.01" height="58.55" fill="#0cc7a6"/>
<rect x="641.08" y="625.20" width="5.01" height="60.80" fill="#0cc7a6"/>
<rect x="646.09" y="629.70" width="5.01" height="56.30" fill="#0cc7a6"/>
<rect x="651.09" y="645.46" width="5.01" height="40.54" fill="#0cc7a6"/>
<rect x="656.10" y="638.71" width="5.01" height="47.29" fill="#0cc7a6"/>
<rect x="661.11" y="627.45" width="5.01" height="58.55" fill="#0cc7a6"/>
<rect x="666.11" y="631.95" width="5.01" height="54.05" fill="#0cc7a6"/>
<rect x="671.12" y="625.20" width="5.01" height="60.80" fill="#0cc7a6"/>
<rect x="676.13" y="618.44" width="5.01" height="67.56" fill="#0cc7a6"/>
<rect x="681.13" y="609.43" width="5.01" height="76.57" fill="#0cc7a6"/>
<rect x="686.14" y="620.69" width="5.01" height="65.31" fill="#0cc7a6"/>
<rect x="691.15" y="613.94" width="5.01" height="72.06" fill="#0cc7a6"/>
<rect x="696.15" y="607.18" width="5.01" height="78.82" fill="#0cc7a6"/>
<rect x="701.16" y="602.68" width="5.01" height="83.32" fill="#0cc7a6"/>
<rect x="706.17" y="595.92" width="5.01" height="90.08" fill="#0cc7a6"/>
<rect x="711.17" y="589.16" width="5.01" height="96.84" fill="#0cc7a6"/>
<rect x="716.18" y="582.41" width="5.01" height="103.59" fill="#0cc7a6"/>
<rect x="721.19" y="591.42" width="5.01" height="94.58" fill="#0cc7a6"/>
<rect x="726.19" y="607.18" width="5.01" height="78.82" fill="#0cc7a6"/>
<rect x="585.56" y="604.93" width="0.9" height="81.07" fill="#3edcc1"/>
<rect x="590.56" y="616.19" width="0.9" height="69.81" fill="#3edcc1"/>
<rect x="595.57" y="622.94" width="0.9" height="63.06" fill="#3edcc1"/>
<rect x="600.58" y="622.94" width="0.9" height="63.06" fill="#3edcc1"/>
<rect x="605.58" y="613.94" width="0.9" height="72.06" fill="#3edcc1"/>
<rect x="610.59" y="627.45" width="0.9" height="58.55" fill="#3edcc1"/>
<rect x="615.60" y="654.47" width="0.9" height="31.53" fill="#3edcc1"/>
<rect x="620.60" y="654.47" width="0.9" height="31.53" fill="#3edcc1"/>
<rect x="625.61" y="649.97" width="0.9" height="36.03" fill="#3edcc1"/>
<rect x="630.62" y="647.72" width="0.9" height="38.28" fill="#3edcc1"/>
<rect x="635.62" y="636.46" width="0.9" height="49.54" fill="#3edcc1"/>
<rect x="640.63" y="627.45" width="0.9" height="58.55" fill="#3edcc1"/>
<rect x="645.64" y="629.70" width="0.9" height="56.30" fill="#3edcc1"/>
<rect x="650.64" y="645.46" width="0.9" height="40.54" fill="#3edcc1"/>
<rect x="655.65" y="645.46" width="0.9" height="40.54" fill="#3edcc1"/>
<rect x="660.66" y="638.71" width="0.9" height="47.29" fill="#3edcc1"/>
<rect x="665.66" y="631.95" width="0.9" height="54.05" fill="#3edcc1"/>
<rect x="670.67" y="631.95" width="0.9" height="54.05" fill="#3edcc1"/>
<rect x="675.68" y="625.20" width="0.9" height="60.80" fill="#3edcc1"/>
<rect x="680.68" y="618.44" width="0.9" height="67.56" fill="#3edcc1"/>
<rect x="685.69" y="620.69" width="0.9" height="65.31" fill="#3edcc1"/>
<rect x="690.70" y="620.69" width="0.9" height="65.31" fill="#3edcc1"/>
<rect x="695.70" y="613.94" width="0.9" height="72.06" fill="#3edcc1"/>
<rect x="700.71" y="607.18" width="0.9" height="78.82" fill="#3edcc1"/>
<rect x="705.72" y="602.68" width="0.9" height="83.32" fill="#3edcc1"/>
<rect x="710.72" y="595.92" width="0.9" height="90.08" fill="#3edcc1"/>
<rect x="715.73" y="589.16" width="0.9" height="96.84" fill="#3edcc1"/>
<rect x="720.74" y="591.42" width="0.9" height="94.58" fill="#3edcc1"/>
<rect x="725.74" y="607.18" width="0.9" height="78.82" fill="#3edcc1"/>
<text x="583.50" y="702.70" font-size="8.5" fill="#333" text-anchor="middle" textLength="41.8" lengthAdjust="spacing">22 МАРТА</text>
<text x="728.70" y="702.70" font-size="8.5" fill="#333" text-anchor="middle">20 АПРЕЛЯ</text>
<rect x="790.50" y="685.50" width="161.10" height="1" fill="#ededed"/>
<text x="789.80" y="689.00" font-size="8.5" fill="#333" text-anchor="end">0</text>
<rect x="790.50" y="629.20" width="161.10" height="1" fill="#ededed"/>
<text x="789.80" y="632.70" font-size="8.5" fill="#333" text-anchor="end">2</text>
<rect x="790.50" y="572.90" width="161.10" height="1" fill="#ededed"/>
<text x="789.80" y="576.40" font-size="8.5" fill="#333" text-anchor="end">4</text>
<rect x="804.28" y="601.55" width="5.08" height="84.45" fill="#d30f1c"/>
<rect x="809.36" y="629.70" width="5.08" height="56.30" fill="#d30f1c"/>
<rect x="814.44" y="657.85" width="5.08" height="28.15" fill="#d30f1c"/>
<rect x="834.76" y="657.85" width="5.08" height="28.15" fill="#d30f1c"/>
<rect x="839.84" y="629.70" width="5.08" height="56.30" fill="#d30f1c"/>
<rect x="844.92" y="629.70" width="5.08" height="56.30" fill="#d30f1c"/>
<rect x="855.08" y="657.85" width="5.08" height="28.15" fill="#d30f1c"/>
<rect x="860.16" y="657.85" width="5.08" height="28.15" fill="#d30f1c"/>
<rect x="865.24" y="629.70" width="5.08" height="56.30" fill="#d30f1c"/>
<rect x="870.32" y="601.55" width="5.08" height="84.45" fill="#d30f1c"/>
<rect x="875.40" y="629.70" width="5.08" height="56.30" fill="#d30f1c"/>
<rect x="880.48" y="657.85" width="5.08" height="28.15" fill="#d30f1c"/>
<rect x="885.56" y="629.70" width="5.08" height="56.30" fill="#d30f1c"/>
<rect x="895.72" y="657.85" width="5.08" height="28.15" fill="#d30f1c"/>
<rect x="916.04" y="657.85" width="5.08" height="28.15" fill="#d30f1c"/>
<rect x="921.12" y="657.85" width="5.08" height="28.15" fill="#d30f1c"/>
<rect x="931.28" y="629.70" width="5.08" height="56.30" fill="#d30f1c"/>
<rect x="936.36" y="657.85" width="5.08" height="28.15" fill="#d30f1c"/>
<rect x="808.91" y="629.70" width="0.9" height="56.30" fill="#ee3f4a"/>
<rect x="813.99" y="657.85" width="0.9" height="28.15" fill="#ee3f4a"/>
<rect x="839.39" y="657.85" width="0.9" height="28.15" fill="#ee3f4a"/>
<rect x="844.47" y="629.70" width="0.9" height="56.30" fill="#ee3f4a"/>
<rect x="859.71" y="657.85" width="0.9" height="28.15" fill="#ee3f4a"/>
<rect x="864.79" y="657.85" width="0.9" height="28.15" fill="#ee3f4a"/>
<rect x="869.87" y="629.70" width="0.9" height="56.30" fill="#ee3f4a"/>
<rect x="874.95" y="629.70" width="0.9" height="56.30" fill="#ee3f4a"/>
<rect x="880.03" y="657.85" width="0.9" height="28.15" fill="#ee3f4a"/>
<rect x="885.11" y="657.85" width="0.9" height="28.15" fill="#ee3f4a"/>
<rect x="920.67" y="657.85" width="0.9" height="28.15" fill="#ee3f4a"/>
<rect x="935.91" y="657.85" width="0.9" height="28.15" fill="#ee3f4a"/>
<text x="801.74" y="702.70" font-size="8.5" fill="#333" text-anchor="middle" textLength="41.8" lengthAdjust="spacing">22 МАРТА</text>
<text x="949.06" y="702.70" font-size="8.5" fill="#333" text-anchor="middle">20 АПРЕЛЯ</text>
</svg>
</body>
</html>
